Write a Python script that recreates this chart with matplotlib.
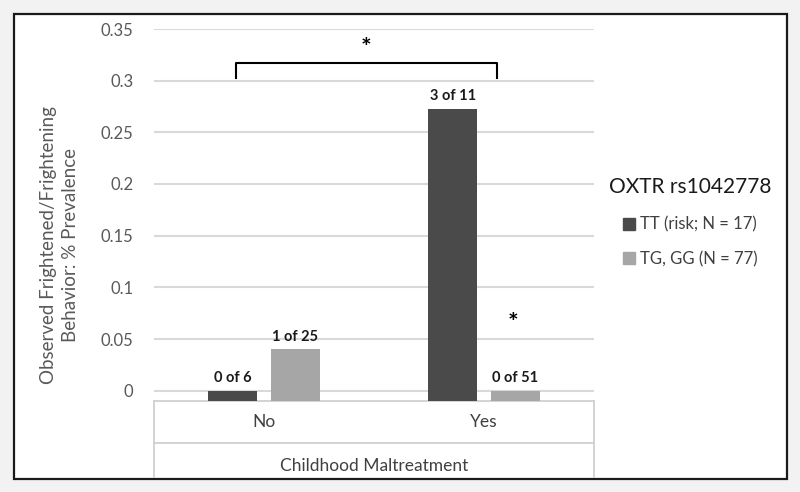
import matplotlib.pyplot as plt
from matplotlib.patches import Rectangle, Patch
from matplotlib.lines import Line2D

plt.rcParams['font.family'] = ['Lato', 'DejaVu Sans']

# data
categories = ['No', 'Yes']
series_names = ['TT (risk; N = 17)', 'TG, GG (N = 77)']
tt_values = [0.0, 3 / 11]
tg_values = [1 / 25, 0.0]
tt_labels = ['0 of 6', '3 of 11']
tg_labels = ['1 of 25', '0 of 51']
yticks = [0, 0.05, 0.1, 0.15, 0.2, 0.25, 0.3, 0.35]
ytick_labels = ['0', '0.05', '0.1', '0.15', '0.2', '0.25', '0.3', '0.35']

dark = '#4a4a4a'
light = '#a6a6a6'
grid_c = '#d9d9d9'
txt_c = '#595959'
ymin = -0.01

fig = plt.figure(figsize=(8, 4.92), dpi=100)
fig.patch.set_facecolor('#f2f2f2')
fig.add_artist(Rectangle((14 / 800, 1 - 479 / 492), 773 / 800, 465 / 492,
                         transform=fig.transFigure, facecolor='white',
                         edgecolor='#1a1a1a', lw=1.6, zorder=-1))

ax = fig.add_axes([154 / 800, 1 - 401 / 492, 440 / 800, 372 / 492])
ax.set_facecolor('none')

x = range(len(categories))
w = 0.224
off = 0.142
tt_x = [i - off for i in x]
tg_x = [i + off for i in x]

# Excel style: bars start at the axis minimum
ax.bar(tt_x, [v - ymin for v in tt_values], w, bottom=ymin, color=dark,
       label=series_names[0], zorder=3)
ax.bar(tg_x, [v - ymin for v in tg_values], w, bottom=ymin, color=light,
       label=series_names[1], zorder=3)

for xs, vals, labs in [(tt_x, tt_values, tt_labels), (tg_x, tg_values, tg_labels)]:
    for xi, v, lab in zip(xs, vals, labs):
        ax.annotate(lab, (xi, v), xytext=(0, 4), textcoords='offset points',
                    ha='center', va='bottom', fontsize=10.5, fontweight='bold',
                    color='#1a1a1a')

ax.set_xlim(-0.5, 1.5)
ax.set_ylim(ymin, 0.35)
ax.set_yticks(yticks)
ax.set_yticklabels(ytick_labels)
ax.set_xticks([])
ax.tick_params(axis='y', length=0, pad=15, labelsize=12, labelcolor=txt_c)
for s in ax.spines.values():
    s.set_visible(False)
for t in yticks:
    ax.axhline(t, color=grid_c, lw=1.5, zorder=1)

ax.set_ylabel('Observed Frightened/Frightening\nBehavior: % Prevalence',
              fontsize=13.5, color=txt_c, linespacing=1.4)
ax.yaxis.set_label_coords(-0.17, 0.42)

# significance bracket
ax.plot([-0.127, -0.127, 1.059, 1.059], [0.303, 0.3174, 0.3174, 0.303],
        color='black', lw=1.5, zorder=4)
ax.text(0.464, 0.331, '*', ha='center', va='center', fontsize=18,
        fontweight='bold', color='black')
ax.text(1.133, 0.065, '*', ha='center', va='center', fontsize=18,
        fontweight='bold', color='black')

# category axis table
tc = '#d0d0d0'
tr = ax.transAxes
for y0 in [0, -0.112]:
    ax.add_line(Line2D([0, 1], [y0, y0], transform=tr, color=tc, lw=1.3, clip_on=False))
for x0 in [0, 1]:
    ax.add_line(Line2D([x0, x0], [0, -0.204], transform=tr, color=tc, lw=1.3, clip_on=False))
for i, c in enumerate(categories):
    ax.text(0.25 + 0.5 * i, -0.056, c, transform=tr, ha='center', va='center',
            fontsize=12.5, color='#404040')
ax.text(0.5, -0.175, 'Childhood Maltreatment', transform=tr, ha='center',
        va='center', fontsize=12.5, color='#404040')

handles = [Patch(color=dark), Patch(color=light)]
leg = ax.legend(handles, series_names, title='OXTR rs1042778', frameon=False,
                loc='center', bbox_to_anchor=(690 / 800, 1 - 222 / 492),
                bbox_transform=fig.transFigure, fontsize=12,
                title_fontsize=15, handlelength=0.7, handleheight=0.7,
                handletextpad=0.3, labelspacing=1.1)
for t in leg.get_texts():
    t.set_color('#404040')
leg.get_title().set_color('#1a1a1a')
leg._legend_box.sep = 14

fig.savefig('out.png', dpi=100, facecolor=fig.get_facecolor())
